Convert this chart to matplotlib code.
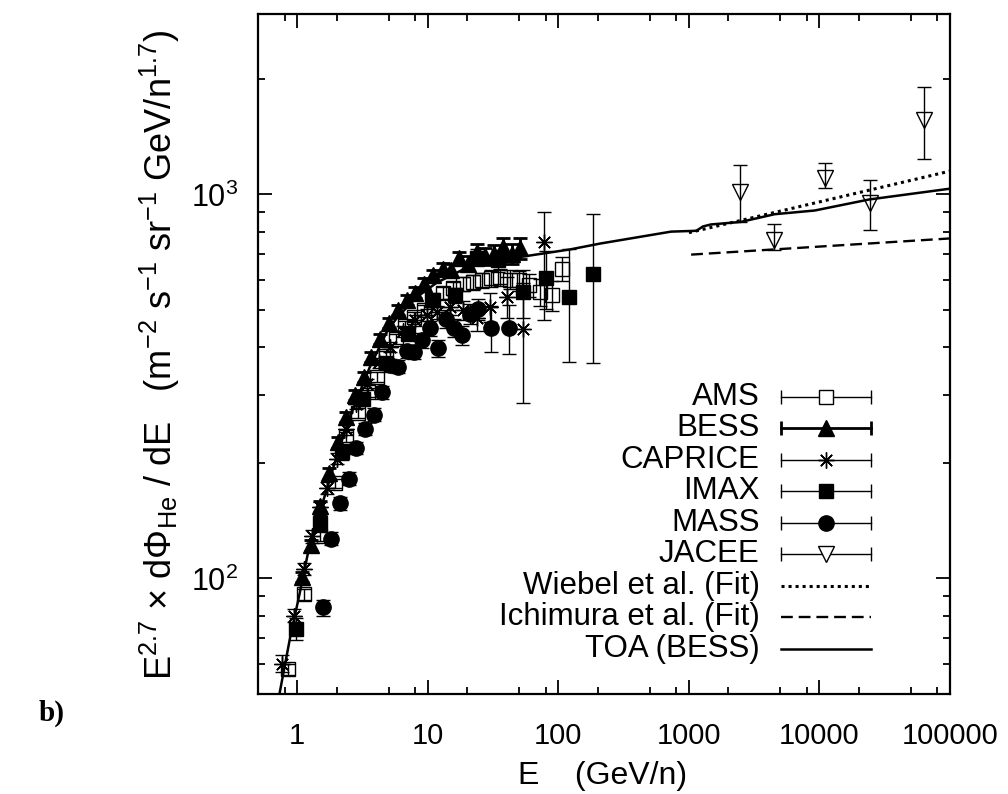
import numpy as np
import matplotlib.pyplot as plt
from matplotlib.ticker import LogLocator, FuncFormatter, NullFormatter

plt.rcParams['font.family'] = ['Liberation Sans', 'DejaVu Sans']
plt.rcParams['mathtext.fontset'] = 'custom'
plt.rcParams['mathtext.rm'] = 'Liberation Sans'
plt.rcParams['mathtext.it'] = 'Liberation Sans:italic'
plt.rcParams['mathtext.bf'] = 'Liberation Sans:bold'

# AMS
ams_E = [0.85, 1.13, 1.48, 1.93, 2.38, 2.9, 3.45, 4.05, 4.8, 5.7, 6.7, 7.9, 9.3, 11, 13,
         15.5, 18.5, 22, 26, 30.5, 36, 42.5, 50, 60, 72, 90, 107]
ams_F = [58, 91, 129, 177, 233, 270, 305, 334, 380, 420, 455, 480, 500, 530, 555,
         570, 585, 590, 597, 604, 608, 600, 597, 580, 556, 546, 641]
ams_err = [2, 3, 4, 5, 7, 8, 9, 10, 11, 12, 13, 14, 16, 18, 20,
           22, 24, 26, 28, 30, 32, 34, 36, 40, 45, 50, 45]

# BESS
bess_E = [1.09, 1.27, 1.48, 1.74, 2.05, 2.38, 2.75, 3.25, 3.7, 4.3, 5.0, 5.9, 6.9, 8.0,
          9.3, 10.9, 13.0, 15.0, 17.3, 20.3, 23.8, 27.5, 32.0, 37.8, 44.0, 51.0]
bess_F = [101, 122, 154, 188, 226, 263, 300, 335, 378, 420, 462, 499, 530, 555,
          585, 616, 641, 635, 681, 660, 710, 690, 700, 729, 700, 725]
bess_err = [3, 4, 5, 6, 7, 8, 9, 10, 11, 13, 14, 15, 16, 18,
            19, 21, 23, 25, 28, 30, 34, 36, 38, 42, 42, 45]

# CAPRICE
cap_E = [0.77, 0.95, 1.13, 1.3, 1.5, 1.7, 2.0, 2.35, 2.8, 3.4, 4.2, 5.1, 6.4, 8.0,
         9.8, 11.7, 14.8, 18.5, 23.8, 30, 40.5, 54, 78]
cap_F = [60, 80, 106, 129, 153, 172, 205, 245, 285, 320, 365, 400, 440, 470,
         485, 493, 509, 500, 476, 510, 541, 447, 750]
cap_lo = [3, 3, 4, 5, 5, 6, 7, 8, 9, 10, 11, 12, 14, 16, 18, 20, 24, 28, 35, 45, 65, 160, 280]
cap_hi = [3, 3, 4, 5, 5, 6, 7, 8, 9, 10, 11, 12, 14, 16, 18, 20, 24, 28, 35, 45, 70, 140, 150]

# IMAX
imax_E = [0.98, 1.48, 2.2, 3.16, 4.8, 7.0, 10.7, 16.1, 23.8, 34.5, 54, 80.5, 121, 183]
imax_F = [74, 139, 213, 294, 363, 433, 530, 546, 685, 673, 557, 604, 541, 622]
imax_lo = [5, 7, 9, 11, 13, 15, 20, 25, 35, 45, 80, 100, 174, 259]
imax_hi = [5, 7, 9, 11, 13, 15, 20, 25, 35, 45, 80, 110, 178, 267]

# MASS
mass_E = [1.56, 1.82, 2.14, 2.47, 2.84, 3.33, 3.84, 4.43, 5.1, 5.88, 6.9, 7.9, 9.0, 10.3,
          11.9, 13.7, 15.8, 18.3, 21, 24.2, 30.5, 42]
mass_F = [84, 127, 157, 182, 219, 245, 267, 305, 359, 356, 390, 388, 417, 448,
          397, 475, 450, 430, 489, 502, 450, 450]
mass_err = [4, 5, 6, 7, 8, 9, 10, 12, 14, 14, 16, 16, 18, 20,
            20, 25, 25, 25, 30, 32, 62, 65]

# JACEE
jac_E = [2460, 4510, 10960, 24260, 63100]
jac_F = [1012, 760, 1101, 948, 1560]
jac_lo = [165, 45, 64, 138, 320]
jac_hi = [183, 75, 105, 143, 340]

# fits and TOA
wiebel_E = [1000, 100000]
wiebel_F = [795, 1150]
ichi_E = [1040, 100000]
ichi_F = [697, 768]
toa_E = [0.73, 0.88, 1.04, 1.26, 1.48, 1.64, 2.1, 2.65, 3.58, 4.9, 5.8, 8.2, 11.7, 20, 34,
         48, 123, 210, 730, 1140, 1280, 1470, 2500, 4530, 9200, 24000, 100000]
toa_F = [50, 70, 91, 125, 148, 166, 219, 274, 354, 442, 477, 540, 589, 645, 673,
         685, 719, 745, 800, 804, 825, 835, 848, 888, 908, 970, 1035]

fig = plt.figure(figsize=(10.08, 7.94), dpi=100)
ax = fig.add_axes([258/1008, 1-694/794, 692/1008, 680/794])

# markers: (name, E, F, yerr, marker, size, filled, elw)
series = [
    ('AMS', ams_E, ams_F, [ams_err, ams_err], 's', 10.5, False, 1.0),
    ('BESS', bess_E, bess_F, [bess_err, bess_err], '^', 11, True, 2.0),
    ('CAPRICE', cap_E, cap_F, [cap_lo, cap_hi], (8, 2, 0), 11.5, False, 1.0),
    ('IMAX', imax_E, imax_F, [imax_lo, imax_hi], 's', 10.5, True, 1.0),
    ('MASS', mass_E, mass_F, [mass_err, mass_err], 'o', 11, True, 1.0),
    ('JACEE', jac_E, jac_F, [jac_lo, jac_hi], 'v', 11.5, False, 1.0),
]

for name, E, F, err, m, ms, filled, elw in series:
    ax.errorbar(E, F, yerr=err, fmt='none', ecolor='k', elinewidth=elw,
                capsize=5, capthick=elw, zorder=2)
    ax.plot(E, F, linestyle='none', marker=m, markersize=ms,
            markerfacecolor='k' if filled else 'none', markeredgecolor='k',
            markeredgewidth=1.0, zorder=3)

ax.plot(wiebel_E, wiebel_F, color='k', lw=2.2, linestyle=(0, (1, 1.3)), zorder=4)
ax.plot(ichi_E, ichi_F, color='k', lw=1.7, linestyle=(0, (5, 2.5)), zorder=4)
ax.plot(toa_E, toa_F, color='k', lw=1.8, zorder=4)

ax.set_xscale('log')
ax.set_yscale('log')
ax.set_xlim(0.5, 100000)
ax.set_ylim(50, 2950)

ax.xaxis.set_major_locator(LogLocator(base=10, numticks=12))
ax.xaxis.set_minor_locator(LogLocator(base=10, subs=(2.0, 5.0, 8.0), numticks=12))
ax.xaxis.set_major_formatter(FuncFormatter(lambda v, p: f'{v:g}'))
ax.xaxis.set_minor_formatter(NullFormatter())
ax.yaxis.set_minor_locator(LogLocator(base=10, subs=np.arange(2, 10), numticks=12))
ax.yaxis.set_minor_formatter(NullFormatter())

ax.tick_params(which='both', direction='in', top=True, right=True, width=1.3)
ax.tick_params(which='major', length=10, labelsize=21)
ax.tick_params(which='minor', length=5)
ax.tick_params(axis='x', which='major', pad=20)
ax.tick_params(axis='y', which='major', pad=14, labelsize=22)
for s in ax.spines.values():
    s.set_linewidth(1.6)

fig.text(160/1008, 1-355/794,
         r'E$^{2.7}$ $\times$ d$\Phi_{\mathrm{He}}$ / dE   (m$^{-2}$ s$^{-1}$ sr$^{-1}$ GeV/n$^{1.7}$)',
         rotation=90, ha='center', va='center', fontsize=26)
fig.text(603/1008, 1-776/794, 'E    (GeV/n)', ha='center', va='center', fontsize=23)
fig.text(52/1008, 1-713/794, 'b)', ha='center', va='center', fontsize=21,
         family='Liberation Serif', weight='bold')

# legend drawn by hand (gnuplot style, text right aligned, sample on the right)
labels = [s[0] for s in series] + ['Wiebel et al. (Fit)', 'Ichimura et al. (Fit)', 'TOA (BESS)']
y0, dy = 0.437, 0.0463
x_txt, x_a, x_b, x_m = 0.725, 0.756, 0.886, 0.821
for i, lab in enumerate(labels):
    y = y0 - i*dy
    ax.text(x_txt, y, lab, transform=ax.transAxes, ha='right', va='center', fontsize=22.5)
    if i < len(series):
        name, E, F, err, m, ms, filled, elw = series[i]
        ax.plot([x_a, x_b], [y, y], transform=ax.transAxes, color='k', lw=elw, clip_on=False)
        ax.plot([x_a, x_b], [y, y], transform=ax.transAxes, linestyle='none', marker='|',
                markersize=10, markeredgewidth=elw, color='k', clip_on=False)
        ax.plot([x_m], [y], transform=ax.transAxes, linestyle='none', marker=m,
                markersize=ms, markerfacecolor='k' if filled else 'white',
                markeredgecolor='k', markeredgewidth=1.0, clip_on=False)
    elif lab.startswith('Wiebel'):
        ax.plot([x_a, x_b], [y, y], transform=ax.transAxes, color='k', lw=2.2,
                linestyle=(0, (1, 1.3)))
    elif lab.startswith('Ichimura'):
        ax.plot([x_a, x_b], [y, y], transform=ax.transAxes, color='k', lw=1.7,
                linestyle=(0, (5, 2.5)))
    else:
        ax.plot([x_a, x_b], [y, y], transform=ax.transAxes, color='k', lw=1.8)

fig.savefig('out.png', dpi=100)
